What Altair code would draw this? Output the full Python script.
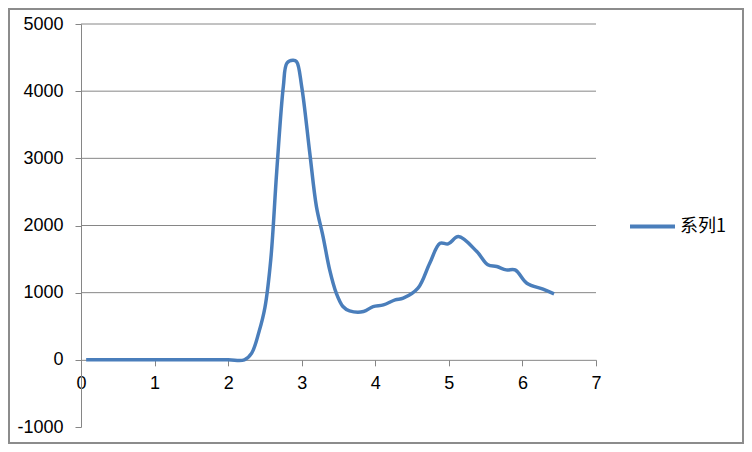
import altair as alt
import pandas as pd

xs = [0.07, 0.5, 1.0, 1.5, 2.0, 2.22, 2.32, 2.42, 2.50, 2.58, 2.66, 2.75, 2.80, 2.88, 2.93,
      3.00, 3.11, 3.20, 3.29, 3.38, 3.47, 3.56, 3.65, 3.84, 3.97, 4.11, 4.27, 4.38,
      4.58, 4.74, 4.88, 4.99, 5.13, 5.38, 5.53, 5.65, 5.78, 5.90, 6.06, 6.28, 6.43]
ys = [0, 0, 0, 0, 0, 0, 100, 420, 780, 1500, 2800, 4067, 4420, 4460, 4440,
      4067, 3076, 2281, 1835, 1339, 992, 794, 730, 719, 793, 818, 893, 918,
      1067, 1439, 1736, 1726, 1835, 1612, 1414, 1389, 1339, 1339, 1141, 1052, 982]
series_name = "系列1"
x_ticks = [0, 1, 2, 3, 4, 5, 6, 7]
y_ticks = [-1000, 0, 1000, 2000, 3000, 4000, 5000]
grid_vals = [1000, 2000, 3000, 4000, 5000]

df = pd.DataFrame({"x": xs, "y": ys, "series": [series_name] * len(xs)})
grid_df = pd.DataFrame({"g": grid_vals})

W, H = 515, 403
GRAY = "#868686"
FONT = "Liberation Sans"
FS = 18

x_scale = alt.Scale(domain=[0, 7], nice=False)
y_scale = alt.Scale(domain=[-1000, 5000], nice=False)

y_axis = alt.Axis(values=y_ticks, grid=False, domainColor=GRAY, tickColor=GRAY,
                  tickSize=6, labelPadding=12, labelFont=FONT, labelFontSize=FS,
                  labelColor="#000000", labelExpr="'' + datum.value", labelFlush=False)

grid = alt.Chart(grid_df).mark_rule(color=GRAY, strokeWidth=1).encode(
    y=alt.Y("g:Q", scale=y_scale, title=None, axis=y_axis)
)

line = alt.Chart(df).mark_line(interpolate="catmull-rom", strokeWidth=3.5).encode(
    x=alt.X("x:Q", scale=x_scale, title=None,
            axis=alt.Axis(values=x_ticks, offset=-H / 6, grid=False, domainColor=GRAY,
                          tickColor=GRAY, tickSize=6, labelPadding=9, labelFont=FONT,
                          labelFontSize=FS, labelColor="#000000",
                          labelExpr="'' + datum.value", labelFlush=False)),
    y=alt.Y("y:Q", scale=y_scale, title=None, axis=y_axis),
    color=alt.Color("series:N", scale=alt.Scale(range=["#4A7EBB"]),
                    legend=alt.Legend(title=None, orient="none", legendX=547, legendY=178,
                                      symbolType="stroke", symbolSize=2025,
                                      symbolStrokeWidth=4, labelFont="Noto Sans CJK SC",
                                      labelFontSize=FS, labelColor="#000000",
                                      labelOffset=3)),
)

frame = alt.Chart(pd.DataFrame({"a": [0]})).mark_rect(
    fill=None, stroke="#8c8c8c", strokeWidth=2
).encode(x=alt.value(-72), x2=alt.value(662), y=alt.value(-15), y2=alt.value(419))

chart = alt.layer(grid, line, frame).properties(
    width=W, height=H,
    autosize=alt.AutoSizeParams(type="none"),
    padding={"left": 73, "top": 16, "right": 148, "bottom": 17},
    background="white",
).configure_view(stroke=None)

chart.save("out.html", embed_options={"renderer": "svg", "actions": False})
